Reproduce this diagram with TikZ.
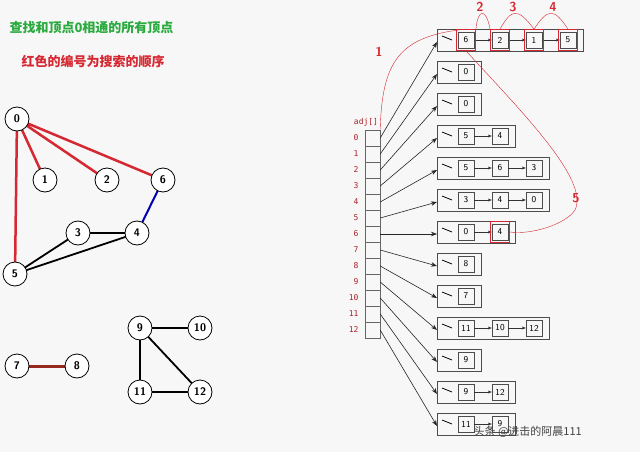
\documentclass[tikz,border=0pt]{standalone}
\usepackage{fontspec}
\newfontfamily\cjk{Noto Sans CJK SC}
\setmonofont{DejaVu Sans Mono}
\usetikzlibrary{arrows.meta}
\definecolor{hired}{RGB}{214,40,50}
\definecolor{higreen}{RGB}{40,170,60}
\definecolor{darkred}{RGB}{150,40,30}
\tikzset{
  vert/.style={circle,draw,thick,fill=white,minimum size=24pt,inner sep=0pt,font=\sffamily\bfseries\fontsize{11}{11}\selectfont},
  cell/.style={draw=gray!80!black,minimum width=15pt,minimum height=16pt,inner sep=0pt},
  item/.style={draw=black!70,minimum width=16pt,minimum height=16pt,inner sep=0pt,font=\sffamily\fontsize{9}{9}\selectfont},
  lbox/.style={draw=black!70,thick},
  ptr/.style={-{Stealth[length=6pt]},black!85,semithick},
  nxt/.style={-{Stealth[length=4pt]},black!80},
  hilite/.style={draw=hired,thick,minimum width=19pt,minimum height=21pt},
  num/.style={text=hired,font=\sffamily\bfseries\fontsize{13}{13}\selectfont},
  idx/.style={text=hired!80!black,font=\ttfamily\fontsize{8}{8}\selectfont}
}
\begin{document}
\begin{tikzpicture}[x=1pt,y=-1pt]
  \useasboundingbox[fill=gray!6] (0,0) rectangle (640,452);
  % titles
  \node[anchor=west,text=higreen,font=\cjk\bfseries\fontsize{13}{13}\selectfont] (t1) at (6,28) {查找和顶点0相通的所有顶点};
  \node[anchor=west,text=hired,font=\cjk\bfseries\fontsize{13}{13}\selectfont] (t2) at (18,62) {红色的编号为搜索的顺序};
  % graph
  \foreach \n/\x/\y in {0/17/119,1/45/180,2/107/180,6/163/180,3/78/233,4/137/233,5/15/274,
                        7/17/366,8/77/366,9/140/328,10/200/328,11/140/392,12/200/392}
    \coordinate (p\n) at (\x,\y);
  \draw[hired,line width=2.5pt] (p0)--(p1) (p0)--(p2) (p0)--(p6) (p0)--(p5);
  \draw[blue!70!black,line width=2pt] (p6)--(p4);
  \draw[line width=1.8pt] (p3)--(p4) (p5)--(p3) (p5)--(p4) (p9)--(p10) (p9)--(p11) (p9)--(p12) (p11)--(p12);
  \draw[darkred,line width=3pt] (p7)--(p8);
  \foreach \n in {0,...,12} \node[vert] (v\n) at (p\n) {\n};
  % adjacency array
  \node[idx,anchor=south] (adj) at (366,130) {adj[]};
  \foreach \i in {0,...,12} {
    \node[cell] (c\i) at (372.5,138+16*\i) {};
    \node[idx,anchor=east] (k\i) at (362,138+16*\i) {\i};
  }
  % lists
  \foreach \r/\lst in {0/{6,2,1,5},1/{0},2/{0},3/{5,4},4/{5,6,3},5/{3,4,0},6/{0,4},
                       7/{8},8/{7},9/{11,10,12},10/{9},11/{9,12},12/{11,9}} {
    \pgfmathsetmacro{\yy}{40+32*\r}
    \foreach \v [count=\j] in \lst {
      \node[item] (e\r-\j) at (432+34*\j,\yy) {\v};
      \xdef\last{\j}
    }
    \draw[lbox] (437,\yy-11) rectangle (447+34*\last,\yy+11);
    \coordinate (l\r) at (437,\yy+2);
    \draw[thick] (442,\yy-4) -- (452,\yy);
    \ifnum\last>1
      \foreach \j [remember=\j as \pj (initially 1)] in {2,...,\last}
        \draw[nxt] (e\r-\pj) -- (e\r-\j);
    \fi
    \draw[ptr] (c\r.east) -- (l\r);
  }
  % search order
  \foreach \j in {1,...,4} \node[hilite] (m\j) at (e0-\j) {};
  \node[hilite] (m5) at (e6-2) {};
  \draw[hired] (c0.north east) .. controls (382,60) and (400,36) .. (m1.north);
  \draw[hired] (m1.north east) .. controls (478,8) and (486,8) .. (m2.north west);
  \draw[hired] (m2.north) .. controls (512,8) and (518,8) .. (m3.north);
  \draw[hired] (m3.north) .. controls (548,8) and (554,8) .. (m4.north);
  \draw[hired] (m1.south) .. controls (520,110) and (590,180) .. (575,210) .. controls (565,225) and (530,235) .. (m5.east);
  \node[num] (o1) at (379,52) {1};
  \node[num] (o2) at (480,7) {2};
  \node[num] (o3) at (513,7) {3};
  \node[num] (o4) at (553,7) {4};
  \node[num] (o5) at (576,198) {5};
  % watermark
  \node[anchor=west,text=black!75,font=\cjk\fontsize{11}{11}\selectfont] (wm) at (470,432) {头条 @进击的阿晨111};
\end{tikzpicture}
\end{document}
